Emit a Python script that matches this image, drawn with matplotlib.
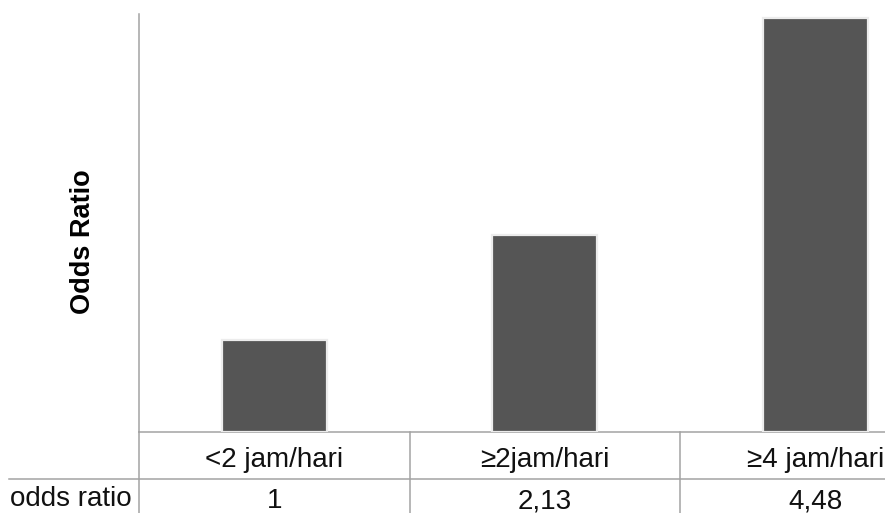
import matplotlib.pyplot as plt
from matplotlib.transforms import blended_transform_factory

categories = ['<2 jam/hari', '≥2jam/hari', '≥4 jam/hari']
odds_ratio = [1, 2.13, 4.48]
table_values = ['1', '2,13', '4,48']
row_label = 'odds ratio'

plt.rcParams['font.family'] = ['Liberation Sans', 'DejaVu Sans']

W, H = 885, 513
fig = plt.figure(figsize=(W / 100, H / 100), dpi=100)
# axes runs past the right edge of the picture (cropped like the original)
left, right, top, bottom = 139, 950.5, 14, 432
ax = fig.add_axes([left / W, 1 - bottom / H, (right - left) / W, (bottom - top) / H])

x = list(range(len(categories)))
ax.bar(x, odds_ratio, width=0.39, color='#555555', edgecolor='#ececec', linewidth=1.6, zorder=3)
ax.set_xlim(-0.5, len(categories) - 0.5)
ax.set_ylim(0, 4.52)
ax.set_xticks([])
ax.set_yticks([])

line_c = '#a3a3a3'
for s in ['top', 'right']:
    ax.spines[s].set_visible(False)
for s in ['left', 'bottom']:
    ax.spines[s].set_color(line_c)
    ax.spines[s].set_linewidth(1.1)

ax.set_ylabel('Odds Ratio', fontsize=19.5, fontweight='bold', va='center')
ax.yaxis.set_label_coords((83 - left) / (right - left), (bottom - 241.5) / (bottom - top))

# data table under the axis
tr = blended_transform_factory(ax.transData, fig.transFigure)
row_sep = 1 - 479 / H
for xs in [-0.5, 0.5, 1.5]:
    ax.plot([xs, xs], [1 - bottom / H, 0], transform=tr, color=line_c, lw=1.1, clip_on=False)
fig.add_artist(plt.Line2D([9 / W, 1], [row_sep, row_sep], color=line_c, lw=1.1))

fs = 20
for i, (c, v) in enumerate(zip(categories, table_values)):
    ax.text(i, 1 - 460 / H, c, transform=tr, ha='center', va='center', fontsize=fs, color='#111111')
    ax.text(i, 1 - 501 / H, v, transform=tr, ha='center', va='center', fontsize=fs, color='#111111')
fig.text(71 / W, 1 - 499 / H, row_label, ha='center', va='center', fontsize=fs, color='#111111')

fig.savefig('out.png', dpi=100)
